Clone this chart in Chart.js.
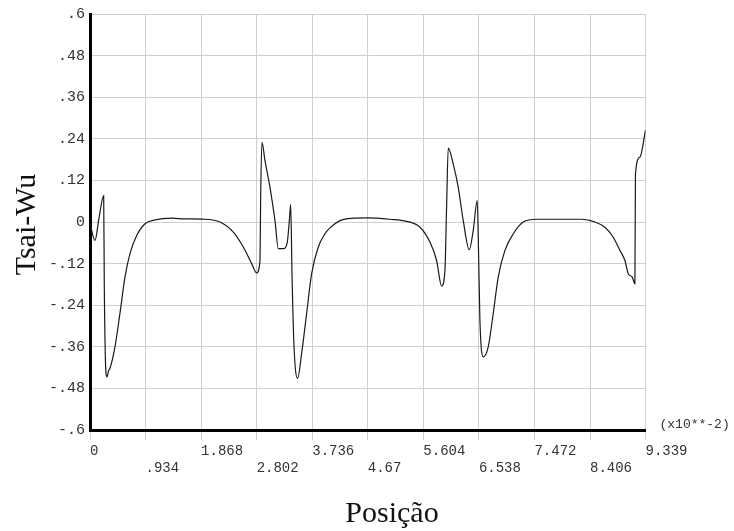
<!DOCTYPE html>
<html>
<head>
<meta charset="utf-8">
<script src="https://cdn.jsdelivr.net/npm/chart.js@4/dist/chart.umd.min.js"></script>
<style>
  html, body { margin: 0; padding: 0; background: #fff; }
  canvas { display: block; }
</style>
</head>
<body>
<canvas id="tsaiChart" width="734" height="531"></canvas>
<script>
// position along the piece (x10**-2)
const posicao = [
  0, 0.084, 0.15, 0.23, 0.24, 0.27, 0.286, 0.31, 0.336, 0.42, 0.504, 0.588, 0.672, 0.785, 0.925,
  1.093, 1.373, 1.597, 1.933, 2.185, 2.409, 2.577, 2.718, 2.802, 2.858, 2.869, 2.891, 2.942,
  3.026, 3.11, 3.166, 3.25, 3.317, 3.351, 3.374, 3.396, 3.43, 3.491, 3.558, 3.642, 3.726,
  3.838, 3.95, 4.034, 4.203, 4.426, 4.65, 5.043, 5.323, 5.547, 5.715, 5.827, 5.911, 5.967,
  5.995, 6.023, 6.107, 6.191, 6.275, 6.376, 6.443, 6.51, 6.534, 6.555, 6.611, 6.695, 6.779,
  6.863, 6.976, 7.116, 7.284, 7.508, 7.901, 8.265, 8.489, 8.657, 8.797, 8.909, 8.993, 9.049,
  9.116, 9.161, 9.17, 9.245, 9.339
];

// Tsai-Wu index
const tsaiWu = [
  -0.004, -0.053, 0.01, 0.076, -0.177, -0.44, -0.447, -0.43, -0.422, -0.36, -0.263, -0.159, -0.091, -0.039, -0.005,
  0.006, 0.011, 0.009, 0.008, 0.0, -0.029, -0.072, -0.12, -0.147, -0.111, 0.071, 0.23, 0.177,
  0.1, 0.004, -0.077, -0.077, -0.058, 0.004, 0.05, -0.149, -0.36, -0.451, -0.379, -0.264, -0.149,
  -0.072, -0.034, -0.017, 0.004, 0.011, 0.012, 0.008, 0.002, -0.015, -0.058, -0.111, -0.185, -0.14,
  0.043, 0.213, 0.167, 0.1, 0.004, -0.08, -0.024, 0.062, -0.101, -0.283, -0.389, -0.36, -0.264,
  -0.159, -0.082, -0.034, 0.0, 0.008, 0.008, 0.008, 0.0, -0.015, -0.044, -0.082, -0.111, -0.149,
  -0.159, -0.178, 0.139, 0.187, 0.265
];

const xTicks = [0, 0.934, 1.868, 2.802, 3.736, 4.67, 5.604, 6.538, 7.472, 8.406, 9.339];
const xTickLabels = ['0', '.934', '1.868', '2.802', '3.736', '4.67', '5.604', '6.538', '7.472', '8.406', '9.339'];
const yTicks = [-0.6, -0.48, -0.36, -0.24, -0.12, 0, 0.12, 0.24, 0.36, 0.48, 0.6];
const yTickLabels = ['-.6', '-.48', '-.36', '-.24', '-.12', '0', '.12', '.24', '.36', '.48', '.6'];

const xTitle = 'Posição';
const yTitle = 'Tsai-Wu';
const xScaleNote = '(x10**-2)';

const monoFamily = '"Liberation Mono", "DejaVu Sans Mono", monospace';

// axis titles and the scale note are drawn after the chart
const titlesPlugin = {
  id: 'titles',
  afterDraw(chart) {
    const ctx = chart.ctx;
    const area = chart.chartArea;
    ctx.save();
    ctx.fillStyle = '#111';
    ctx.font = '30px "Liberation Serif", "Times New Roman", serif';
    ctx.textAlign = 'center';
    ctx.textBaseline = 'alphabetic';
    ctx.fillText(xTitle, 392, 522);

    ctx.translate(35, 224.5);
    ctx.rotate(-Math.PI / 2);
    ctx.fillText(yTitle, 0, 0);
    ctx.restore();

    ctx.save();
    ctx.fillStyle = '#333';
    ctx.font = '13px ' + monoFamily;
    ctx.textAlign = 'left';
    ctx.textBaseline = 'middle';
    ctx.fillText(xScaleNote, area.right + 14, area.bottom - 5);
    ctx.restore();
  }
};

const points = posicao.map((x, i) => ({ x: x, y: tsaiWu[i] }));

new Chart(document.getElementById('tsaiChart').getContext('2d'), {
  type: 'line',
  data: {
    datasets: [{
      data: points,
      borderColor: '#1a1a1a',
      borderWidth: 1.2,
      pointRadius: 0,
      fill: false,
      cubicInterpolationMode: 'monotone'
    }]
  },
  options: {
    responsive: false,
    animation: false,
    layout: { padding: { top: 13, right: 88.5, left: 0, bottom: 0 } },
    plugins: {
      legend: { display: false },
      tooltip: { enabled: false }
    },
    scales: {
      x: {
        type: 'linear',
        min: 0,
        max: 9.339,
        afterBuildTicks: scale => { scale.ticks = xTicks.map(v => ({ value: v })); },
        afterFit: scale => { scale.height = 101; },
        border: { display: true, color: '#000', width: 3 },
        grid: { color: '#cfcfcf', lineWidth: 1, tickLength: 10, tickColor: '#cfcfcf' },
        ticks: {
          autoSkip: false,
          maxRotation: 0,
          minRotation: 0,
          align: 'start',
          padding: 3,
          color: '#333',
          font: { family: monoFamily, size: 14 },
          callback: (value, index) => index % 2 === 0 ? xTickLabels[index] : ['', xTickLabels[index]]
        }
      },
      y: {
        type: 'linear',
        min: -0.6,
        max: 0.6,
        afterBuildTicks: scale => { scale.ticks = yTicks.map(v => ({ value: v })); },
        afterFit: scale => { scale.width = 90; },
        border: { display: true, color: '#000', width: 3 },
        grid: { color: '#cfcfcf', lineWidth: 1, drawTicks: false },
        ticks: {
          padding: 5,
          color: '#333',
          font: { family: monoFamily, size: 15 },
          callback: (value, index) => yTickLabels[index]
        }
      }
    }
  },
  plugins: [titlesPlugin]
});
</script>
</body>
</html>
